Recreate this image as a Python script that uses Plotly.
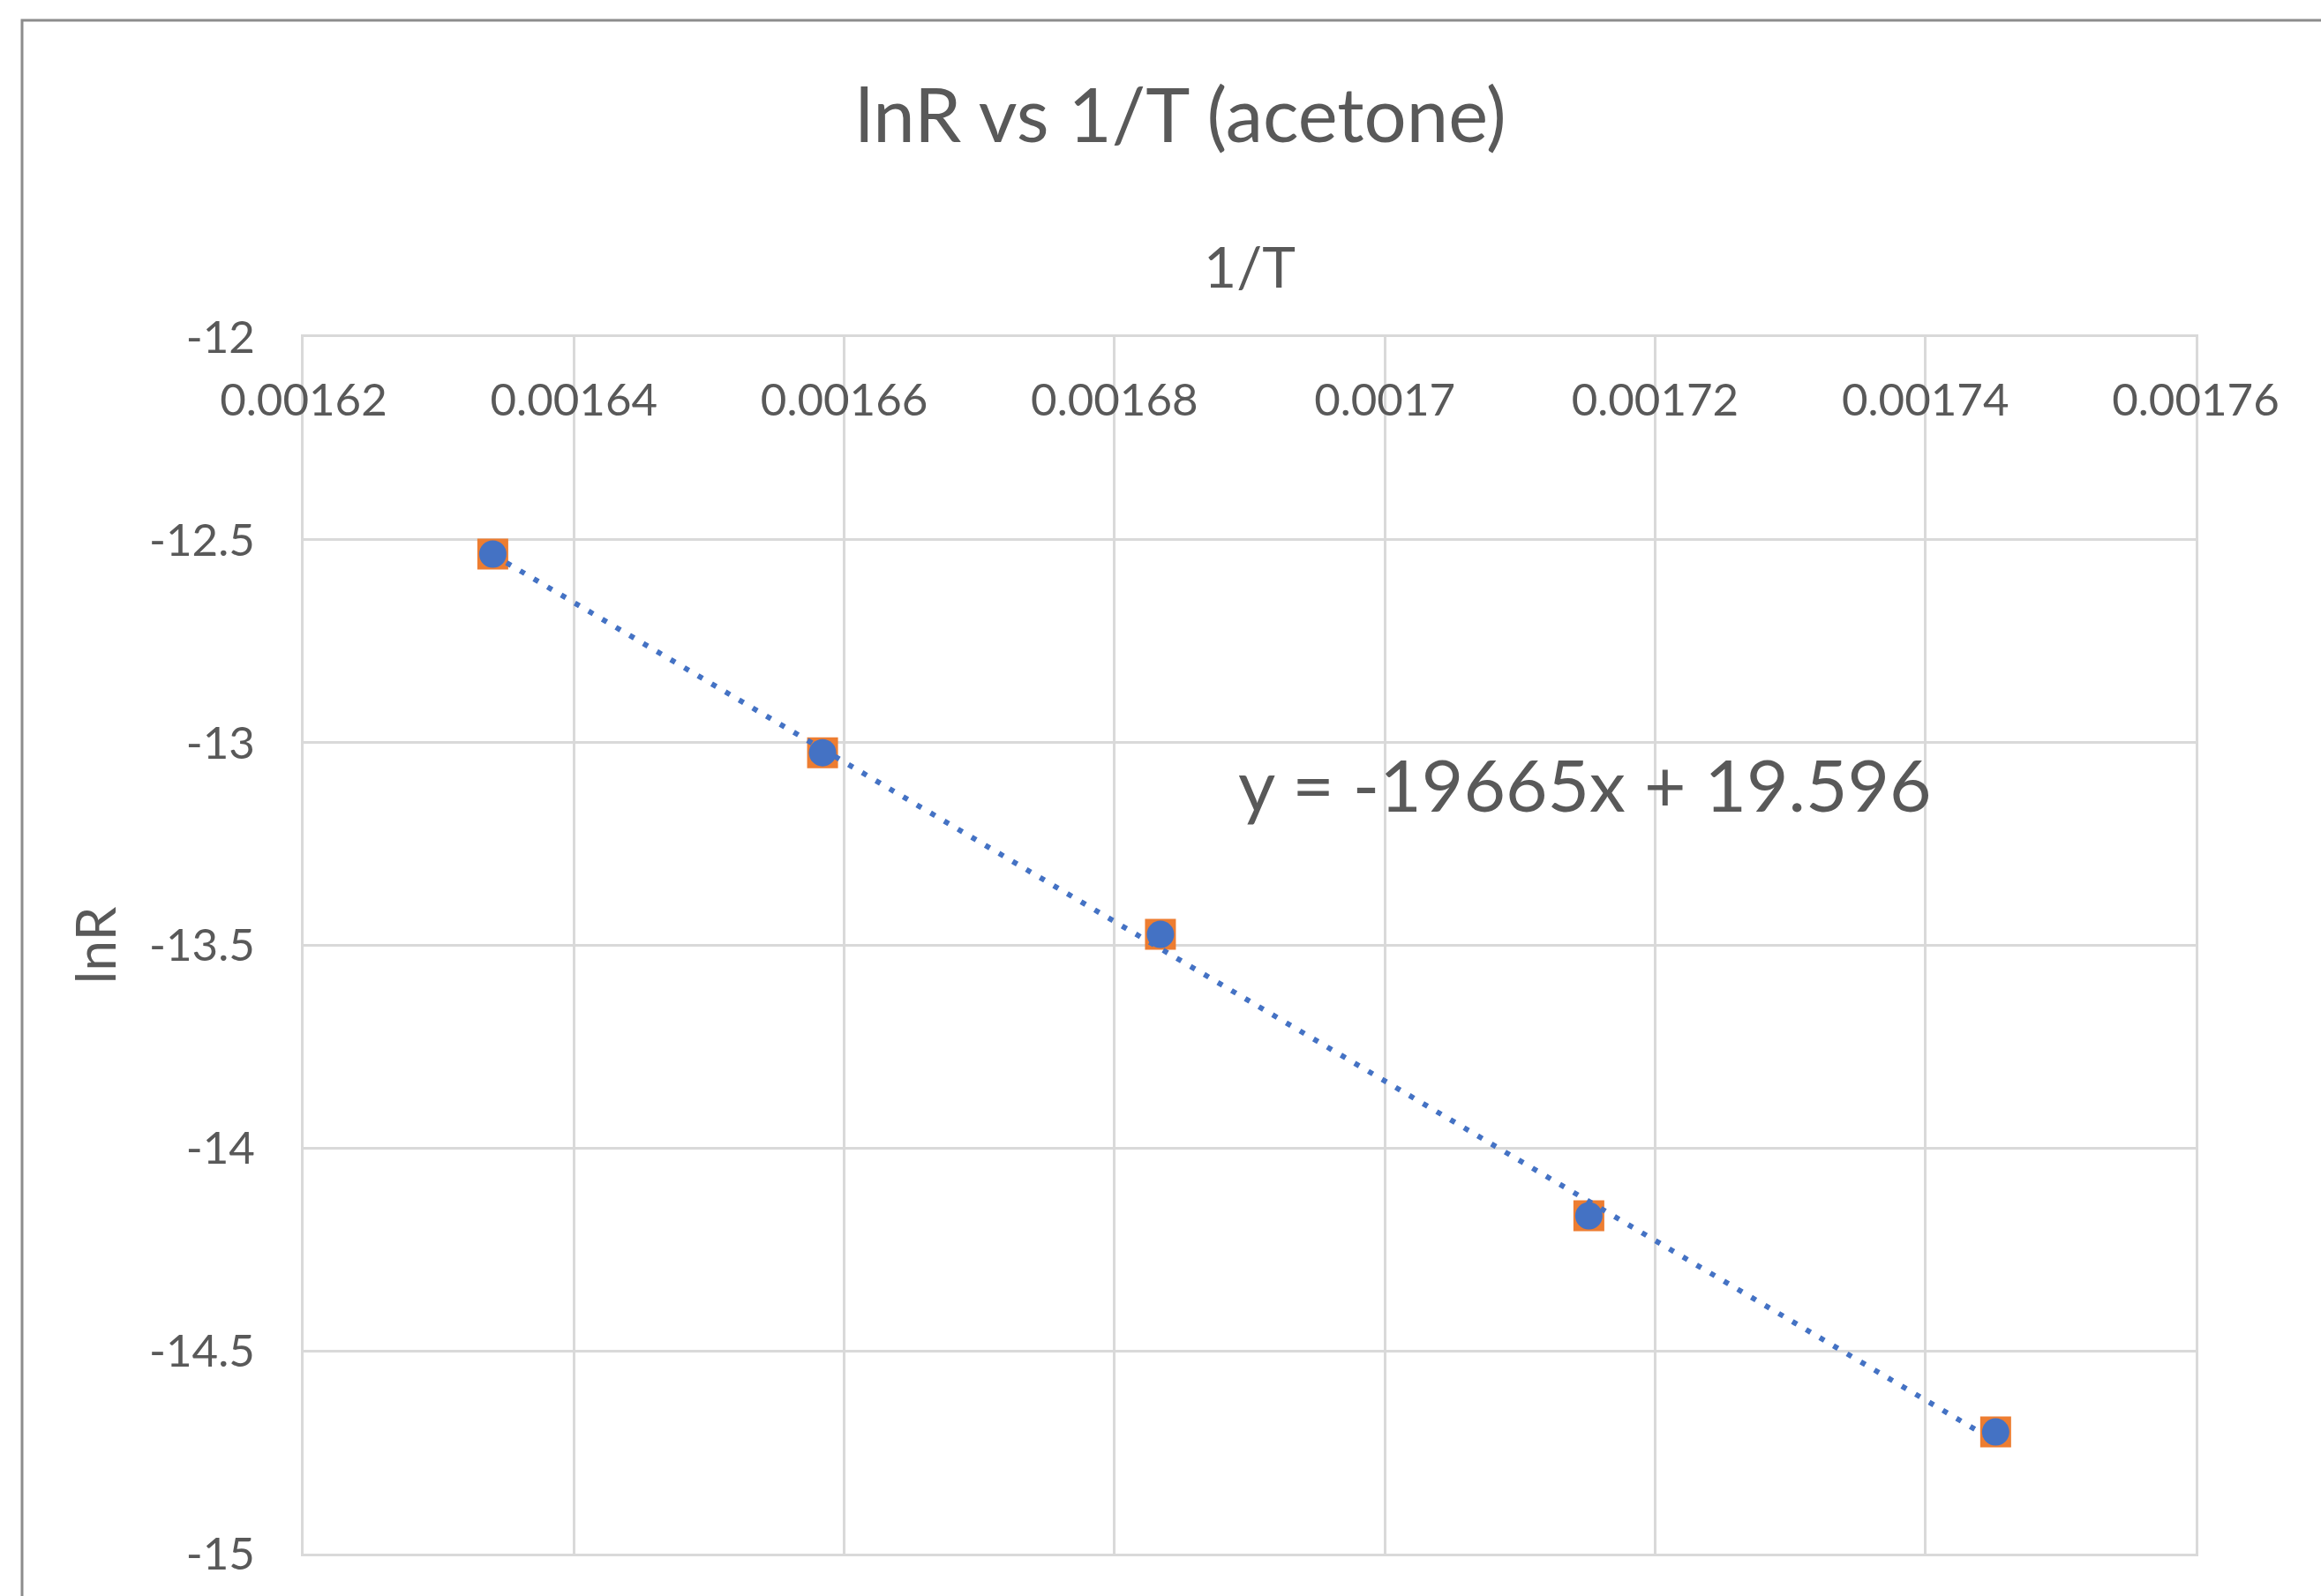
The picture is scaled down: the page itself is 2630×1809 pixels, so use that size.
import plotly.graph_objects as go

# ---- data ----
inv_T = [0.001634, 0.0016584, 0.0016834, 0.0017151, 0.0017452]
lnR = [-12.535, -13.025, -13.473, -14.167, -14.700]

slope = -19665
intercept = 19.596
eq_label = "y = -19665x + 19.596"

x_tickvals = [0.00162, 0.00164, 0.00166, 0.00168, 0.0017, 0.00172, 0.00174, 0.00176]
x_ticktext = ["0.00162", "0.00164", "0.00166", "0.00168", "0.0017", "0.00172", "0.00174", "0.00176"]
y_tickvals = [-12, -12.5, -13, -13.5, -14, -14.5, -15]
y_ticktext = ["-12", "-12.5", "-13", "-13.5", "-14", "-14.5", "-15"]

title_text = "lnR vs 1/T (acetone)"
x_title = "1/T"
y_title = "lnR"

# ---- styling ----
FONT = "Lato, 'Open Sans', sans-serif"
TXT = "#595959"
GRID = "#D9D9D9"
BLUE = "#4472C4"
ORANGE = "#ED7D31"

W, H = 2630, 1809
L, R, T, B = 344, 142, 382, 48

fig = go.Figure()

fig.add_trace(go.Scatter(
    x=inv_T, y=lnR, mode="markers",
    marker=dict(symbol="square", size=35, color=ORANGE, line=dict(width=0)),
    showlegend=False, hoverinfo="skip"))

x_line = [min(inv_T), max(inv_T)]
y_line = [slope * v + intercept for v in x_line]
fig.add_trace(go.Scatter(
    x=x_line, y=y_line, mode="lines",
    line=dict(color=BLUE, width=6, dash="6px,12px"),
    showlegend=False, hoverinfo="skip"))

fig.add_trace(go.Scatter(
    x=inv_T, y=lnR, mode="markers",
    marker=dict(symbol="circle", size=31, color=BLUE, line=dict(width=0)),
    showlegend=False))

fig.update_layout(
    width=W, height=H,
    margin=dict(l=L, r=R, t=T, b=B, autoexpand=False),
    paper_bgcolor="white", plot_bgcolor="white",
    font=dict(family=FONT, color=TXT),
    title=dict(text=title_text, x=1338 / W, xanchor="center",
               y=1 - 131 / H, yanchor="middle",
               font=dict(size=85, color=TXT, family=FONT)),
    showlegend=False,
)

fig.update_xaxes(
    range=[0.00162, 0.00176], side="top",
    tickvals=x_tickvals, ticktext=x_ticktext,
    ticklabelposition="inside", ticklabeloverflow="allow", ticks="",
    ticklabelstandoff=61,
    tickfont=dict(size=51, color=TXT, family=FONT),
    showgrid=True, gridcolor=GRID, gridwidth=3,
    showline=True, mirror=True, linecolor=GRID, linewidth=3,
    zeroline=False,
    title=dict(text=x_title, font=dict(size=64, color=TXT, family=FONT), standoff=75),
)
fig.update_yaxes(
    range=[-15, -12],
    tickvals=y_tickvals, ticktext=y_ticktext,
    ticks="", ticklabelstandoff=42, ticklabeloverflow="allow",
    tickfont=dict(size=51, color=TXT, family=FONT),
    showgrid=True, gridcolor=GRID, gridwidth=3,
    showline=True, mirror=True, linecolor=GRID, linewidth=3,
    zeroline=False,
    title=dict(text=y_title, font=dict(size=62, color=TXT, family=FONT), standoff=18),
)

# equation label of the trendline
fig.add_annotation(
    text=eq_label, xref="paper", yref="paper",
    x=(1796 - L) / (W - L - R), y=(H - B - 888) / (H - T - B),
    xanchor="center", yanchor="middle", showarrow=False,
    font=dict(size=82, color=TXT, family=FONT))

# chart outer border (cropped at right & bottom as in the screenshot)
pw, ph = W - L - R, H - T - B
fig.add_shape(type="rect", xref="paper", yref="paper",
              x0=(25 - L) / pw, x1=(W + 50 - L) / pw,
              y0=(H - B - (H + 50)) / ph, y1=(H - B - 23) / ph,
              line=dict(color="#8C8C8C", width=3), fillcolor="rgba(0,0,0,0)", layer="below")

fig.write_html("out.html", config={"displayModeBar": False},
               post_script="document.body.style.margin='0';document.body.style.overflow='hidden';")
